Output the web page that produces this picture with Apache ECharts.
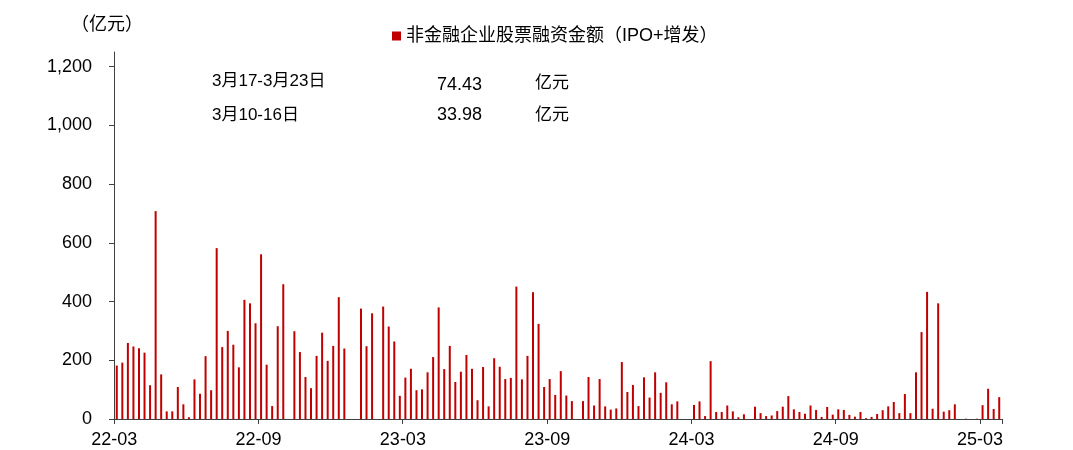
<!DOCTYPE html>
<html>
<head>
<meta charset="utf-8">
<script src="https://cdn.jsdelivr.net/npm/echarts@6/dist/echarts.min.js"></script>
<style>
  html, body { margin: 0; padding: 0; background: #fff; }
  #chart { width: 1073px; height: 450px; }
</style>
</head>
<body>
<div id="chart"></div>
<script>
// weekly equity financing of non-financial firms (亿元), 2022-03 .. 2025-03
const weekValues = [
  182, 192, 259, 247, 241, 226, 115, 708, 152, 26, 26, 109, 50, 6, 135, 86, 214, 98, 582, 245, 300, 253, 176, 406, 394, 326,
  561, 185, 44, 316, 459, 0, 299, 228, 143, 105, 215, 294, 198, 249, 415, 240, 0, 0, 376, 248, 360, 0, 383, 315, 264, 79,
  141, 171, 98, 101, 159, 211, 380, 170, 249, 126, 161, 218, 171, 64, 177, 43, 207, 178, 136, 140, 451, 135, 215, 432, 324, 109,
  136, 82, 163, 80, 61, 0, 61, 143, 46, 136, 43, 32, 36, 194, 92, 116, 44, 142, 73, 159, 89, 125, 50, 60, 0, 0,
  48, 60, 10, 197, 24, 24, 46, 26, 6, 16, 0, 42, 20, 10, 12, 27, 42, 78, 33, 24, 18, 46, 31, 7, 41, 15, 33, 31,
  14, 8, 24, 3, 7, 17, 30, 43, 58, 20, 85, 20, 159, 296, 433, 35, 394, 25, 30, 50, 0, 1, 0, 1, 47, 103, 33.98, 74.43
];
const tickLabels = ['22-03', '22-09', '23-03', '23-09', '24-03', '24-09', '25-03'];
const weeksPerTick = 26;
const yTicks = [0, 200, 400, 600, 800, 1000, 1200];
const seriesName = '非金融企业股票融资金额（IPO+增发）';
const unitLabel = '（亿元）';
const noteRows = [
  { period: '3月17-3月23日', amount: '74.43' },
  { period: '3月10-16日', amount: '33.98' }
];

const categories = weekValues.map((v, i) => 'w' + i);
const showTick = (index) => index % weeksPerTick === 0;

const latin = '"Liberation Sans", Arial, sans-serif';
const cjk = '"Liberation Sans", "Noto Sans CJK SC", sans-serif';

const chart = echarts.init(document.getElementById('chart'));

const noteGraphics = [];
noteRows.forEach((row, k) => {
  const y = k === 0 ? 81 : 115;
  noteGraphics.push(
    { type: 'text', x: 212, y: y, style: { text: row.period, font: '17px ' + cjk, fill: '#000', textVerticalAlign: 'middle' } },
    { type: 'text', x: 437, y: y + (k === 0 ? 4 : 0), style: { text: row.amount, font: '18px ' + latin, fill: '#000', textVerticalAlign: 'middle' } },
    { type: 'text', x: 535, y: y + (k === 0 ? 2 : 0), style: { text: '亿元', font: '17px ' + cjk, fill: '#000', textVerticalAlign: 'middle' } }
  );
});

chart.setOption({
  animation: false,
  textStyle: { fontFamily: latin },
  title: {
    text: unitLabel,
    left: 66,
    top: 11,
    textStyle: { fontSize: 18, fontWeight: 'normal', color: '#000', fontFamily: cjk }
  },
  legend: {
    data: [seriesName],
    left: 387,
    top: 22,
    icon: 'rect',
    itemWidth: 9,
    itemHeight: 9,
    itemGap: 4,
    textStyle: { fontSize: 18, color: '#000', fontFamily: cjk }
  },
  grid: {
    left: 114,
    right: 71,
    top: 52,
    bottom: 31,
    containLabel: false
  },
  xAxis: {
    type: 'category',
    data: categories,
    boundaryGap: true,
    axisLine: { lineStyle: { color: '#404040', width: 1 } },
    axisTick: {
      show: true,
      interval: showTick,
      length: 5,
      lineStyle: { color: '#404040' }
    },
    axisLabel: {
      interval: showTick,
      formatter: (value, index) => tickLabels[index / weeksPerTick] || '',
      color: '#000',
      fontSize: 18,
      margin: 12,
      padding: [0, 5, 0, 0]
    },
    splitLine: { show: false }
  },
  yAxis: {
    type: 'value',
    min: 0,
    max: 1250,
    axisLine: { show: true, lineStyle: { color: '#404040', width: 1 } },
    axisTick: { show: true, length: 5, customValues: yTicks, lineStyle: { color: '#404040' } },
    axisLabel: {
      customValues: yTicks,
      color: '#000',
      fontSize: 18,
      margin: 22,
      formatter: (v) => v.toLocaleString('en-US')
    },
    splitLine: { show: false }
  },
  series: [{
    name: seriesName,
    type: 'bar',
    data: weekValues,
    barWidth: 2,
    itemStyle: { color: '#C00000' }
  }],
  graphic: noteGraphics
});
</script>
</body>
</html>
